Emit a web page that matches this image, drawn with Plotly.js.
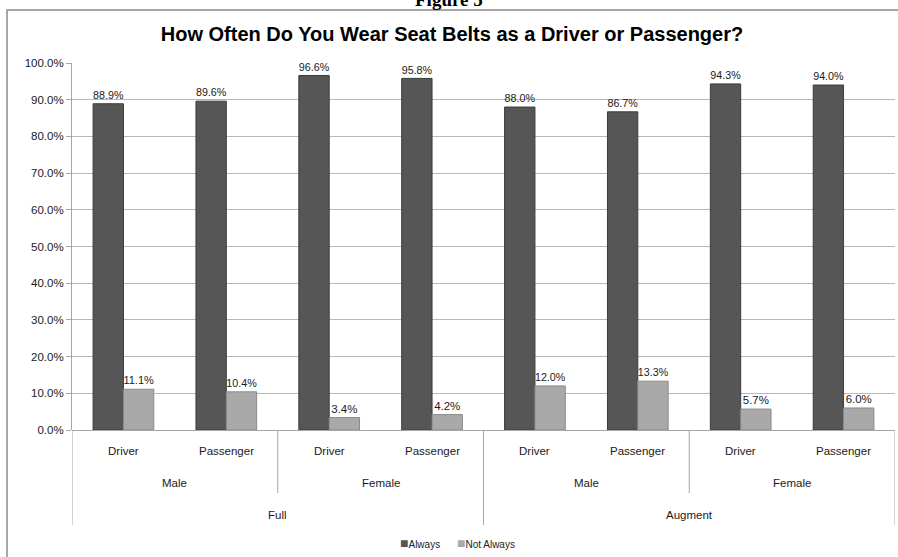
<!DOCTYPE html>
<html>
<head>
<meta charset="utf-8">
<script src="https://cdn.plot.ly/plotly-3.0.1.min.js"></script>
<style>
  html, body { margin: 0; padding: 0; background: #fff; }
  #chart { width: 898px; height: 557px; }
</style>
</head>
<body>
<div id="chart"></div>
<script>
// ---- data ----
var roles = ["Driver", "Passenger", "Driver", "Passenger", "Driver", "Passenger", "Driver", "Passenger"];
var genders = ["Male", "Female", "Male", "Female"];
var samples = ["Full", "Augment"];
var always = [88.9, 89.6, 96.6, 95.8, 88.0, 86.7, 94.3, 94.0];
var notAlways = [11.1, 10.4, 3.4, 4.2, 12.0, 13.3, 5.7, 6.0];
var seriesNames = ["Always", "Not Always"];
var seriesColors = ["#565656", "#a9a9a9"];
var chartTitle = "How Often Do You Wear Seat Belts as a Driver or Passenger?";
var figureLabel = "Figure 5";

// ---- build ----
var xs = roles.map(function (_, i) { return i; });
var FONT = "Liberation Sans, Arial, sans-serif";
var labelFont = { family: FONT, size: 11.5, color: "#1a1a1a" };

var traces = [
  {
    type: "bar", name: seriesNames[0], x: xs, y: always,
    marker: { color: seriesColors[0], line: { color: "#3c3c3c", width: 1 } },
    texttemplate: "%{y:.1f}%", textposition: "outside", cliponaxis: false,
    textfont: labelFont, hoverinfo: "skip"
  },
  {
    type: "bar", name: seriesNames[1], x: xs, y: notAlways,
    marker: { color: seriesColors[1], line: { color: "#8a8a8a", width: 1 } },
    texttemplate: "%{y:.1f}%", textposition: "outside", cliponaxis: false,
    textfont: labelFont, hoverinfo: "skip"
  }
];

var plotTopPx = 63, plotBotPx = 430, plotLeftPx = 72, plotRightPx = 895;
var H = plotBotPx - plotTopPx, W = plotRightPx - plotLeftPx;
function py(p) { return (plotBotPx - p) / H; }
function px(p) { return (p - plotLeftPx) / W; }

var annotations = [];
roles.forEach(function (r, i) {
  annotations.push({ x: i, y: py(451), xref: "x", yref: "paper", text: r, showarrow: false,
    xanchor: "center", yanchor: "middle", font: labelFont });
});
genders.forEach(function (g, i) {
  annotations.push({ x: i * 2 + 0.5, y: py(483), xref: "x", yref: "paper", text: g, showarrow: false,
    xanchor: "center", yanchor: "middle", font: labelFont });
});
samples.forEach(function (s, i) {
  annotations.push({ x: i * 4 + 1.5, y: py(515), xref: "x", yref: "paper", text: s, showarrow: false,
    xanchor: "center", yanchor: "middle", font: labelFont });
});
// legend drawn as annotations (compact, like the reference)
var legendX = [398, 455];
seriesNames.forEach(function (n, i) {
  annotations.push({ x: px(legendX[i]), y: py(543), xref: "paper", yref: "paper",
    text: "<span style='color:" + seriesColors[i] + ";font-size:14px'>■</span>" + n,
    showarrow: false, xanchor: "left", yanchor: "middle",
    font: { family: FONT, size: 10, color: "#222" } });
});
// figure label (clipped at top, as in the reference)
annotations.push({ x: px(449), y: py(12), xref: "paper", yref: "paper", text: "<b>" + figureLabel + "</b>",
  showarrow: false, xanchor: "center", yanchor: "bottom",
  font: { family: "Liberation Serif, Times New Roman, serif", size: 19, color: "#000" } });

var shapes = [];
var lineStyle = { color: "#a6a6a6", width: 1 };
for (var k = 0; k <= roles.length; k += 2) {
  var isOuter = (k % 4 === 0);
  shapes.push({ type: "line", xref: "x", yref: "paper", x0: k - 0.5, x1: k - 0.5,
    y0: 0, y1: py(isOuter ? 525 : 493), line: lineStyle });
}
shapes.push({ type: "rect", xref: "paper", yref: "paper", x0: px(7), x1: px(903), y0: py(565), y1: py(10),
  line: { color: "#8c8c8c", width: 1.5 }, fillcolor: "rgba(0,0,0,0)", layer: "below" });

var layout = {
  width: 898, height: 557,
  margin: { l: plotLeftPx, r: 898 - plotRightPx, t: plotTopPx, b: 557 - plotBotPx, pad: 0 },
  paper_bgcolor: "#fff", plot_bgcolor: "#fff",
  title: { text: "<b>" + chartTitle + "</b>", x: 452 / 898, xref: "container", xanchor: "center",
    y: 1 - 34 / 557, yanchor: "middle",
    font: { family: FONT, size: 20, color: "#000" } },
  barmode: "group", bargap: 0.41, bargroupgap: 0,
  showlegend: false,
  xaxis: { range: [-0.5, roles.length - 0.5], showticklabels: false, ticks: "", showgrid: false,
    zeroline: false, showline: false, fixedrange: true },
  yaxis: { range: [0, 100], dtick: 10, tick0: 0, tickformat: ".1f", ticksuffix: "%",
    ticks: "outside", ticklen: 5, tickcolor: "#a6a6a6",
    showline: true, linecolor: "#a6a6a6", linewidth: 1,
    showgrid: true, gridcolor: "#b8b8b8", gridwidth: 1,
    zeroline: true, zerolinecolor: "#a6a6a6", zerolinewidth: 1,
    tickfont: labelFont, fixedrange: true },
  annotations: annotations,
  shapes: shapes
};

Plotly.newPlot("chart", traces, layout, { displayModeBar: false, staticPlot: true });
</script>
</body>
</html>
